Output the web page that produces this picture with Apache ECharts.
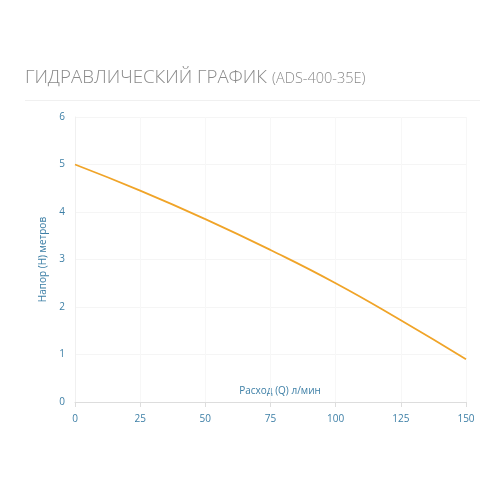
<!DOCTYPE html>
<html><head><meta charset="utf-8">
<script src="https://cdn.jsdelivr.net/npm/echarts@6/dist/echarts.min.js"></script>
<style>html,body{margin:0;padding:0;background:#fff}#c{width:500px;height:500px}</style>
</head><body><div id="c"></div>
<script>
const flowQ = [0, 25, 50, 75, 100, 125, 150];
const headH = [5.0, 4.45, 3.85, 3.2, 2.5, 1.72, 0.9];
const titleMain = 'ГИДРАВЛИЧЕСКИЙ ГРАФИК';
const titleModel = '(ADS-400-35E)';
const xName = 'Расход (Q) л/мин';
const yName = 'Напор (H) метров';

const chart = echarts.init(document.getElementById('c'));
chart.setOption({
  animation: false,
  title: {
    left: 25, top: 68, padding: 0,
    text: '{a|' + titleMain + '} {b|' + titleModel + '}',
    textStyle: {
      rich: {
        a: { fontFamily: 'Open Sans', fontWeight: 300, fontSize: 18.7, color: '#8a8a8a' },
        b: { fontFamily: 'Open Sans', fontWeight: 300, fontSize: 14.5, color: '#8a8a8a', padding: [3,0,0,0] }
      }
    }
  },
  graphic: [{
    type: 'line', shape: { x1: 25, y1: 100.5, x2: 480, y2: 100.5 },
    style: { stroke: '#f0f0f0', lineWidth: 1 }
  }, {
    type: 'text', x: 280, y: 391,
    style: { text: xName, fill: '#3d7fa6', font: '10px "Open Sans"', align: 'center', verticalAlign: 'middle' }
  }],
  grid: { left: 75, right: 34, top: 117, bottom: 98 },
  xAxis: {
    type: 'value', min: 0, max: 150, interval: 25,
    axisLine: { lineStyle: { color: '#dddddd' } },
    axisTick: { show: true, length: 5, lineStyle: { color: '#dddddd' } },
    axisLabel: { color: '#3d7fa6', fontSize: 10, margin: 12, fontFamily: 'Open Sans' },
    splitLine: { show: true, lineStyle: { color: '#f7f7f7' } }
  },
  yAxis: {
    type: 'value', min: 0, max: 6, interval: 1,
    name: yName, nameLocation: 'middle', nameGap: 26, nameRotate: 90,
    nameTextStyle: { color: '#3d7fa6', fontSize: 10, fontFamily: 'Open Sans' },
    axisLine: { show: true, lineStyle: { color: '#f0f0f0' } },
    axisTick: { show: false },
    axisLabel: { color: '#3d7fa6', fontSize: 10, margin: 10, fontFamily: 'Open Sans' },
    splitLine: { show: true, lineStyle: { color: '#f5f5f5' } }
  },
  series: [{
    type: 'line', smooth: true, symbol: 'none',
    data: flowQ.map((q, i) => [q, headH[i]]),
    lineStyle: { color: '#f0a428', width: 1.8 }
  }]
});
</script></body></html>
